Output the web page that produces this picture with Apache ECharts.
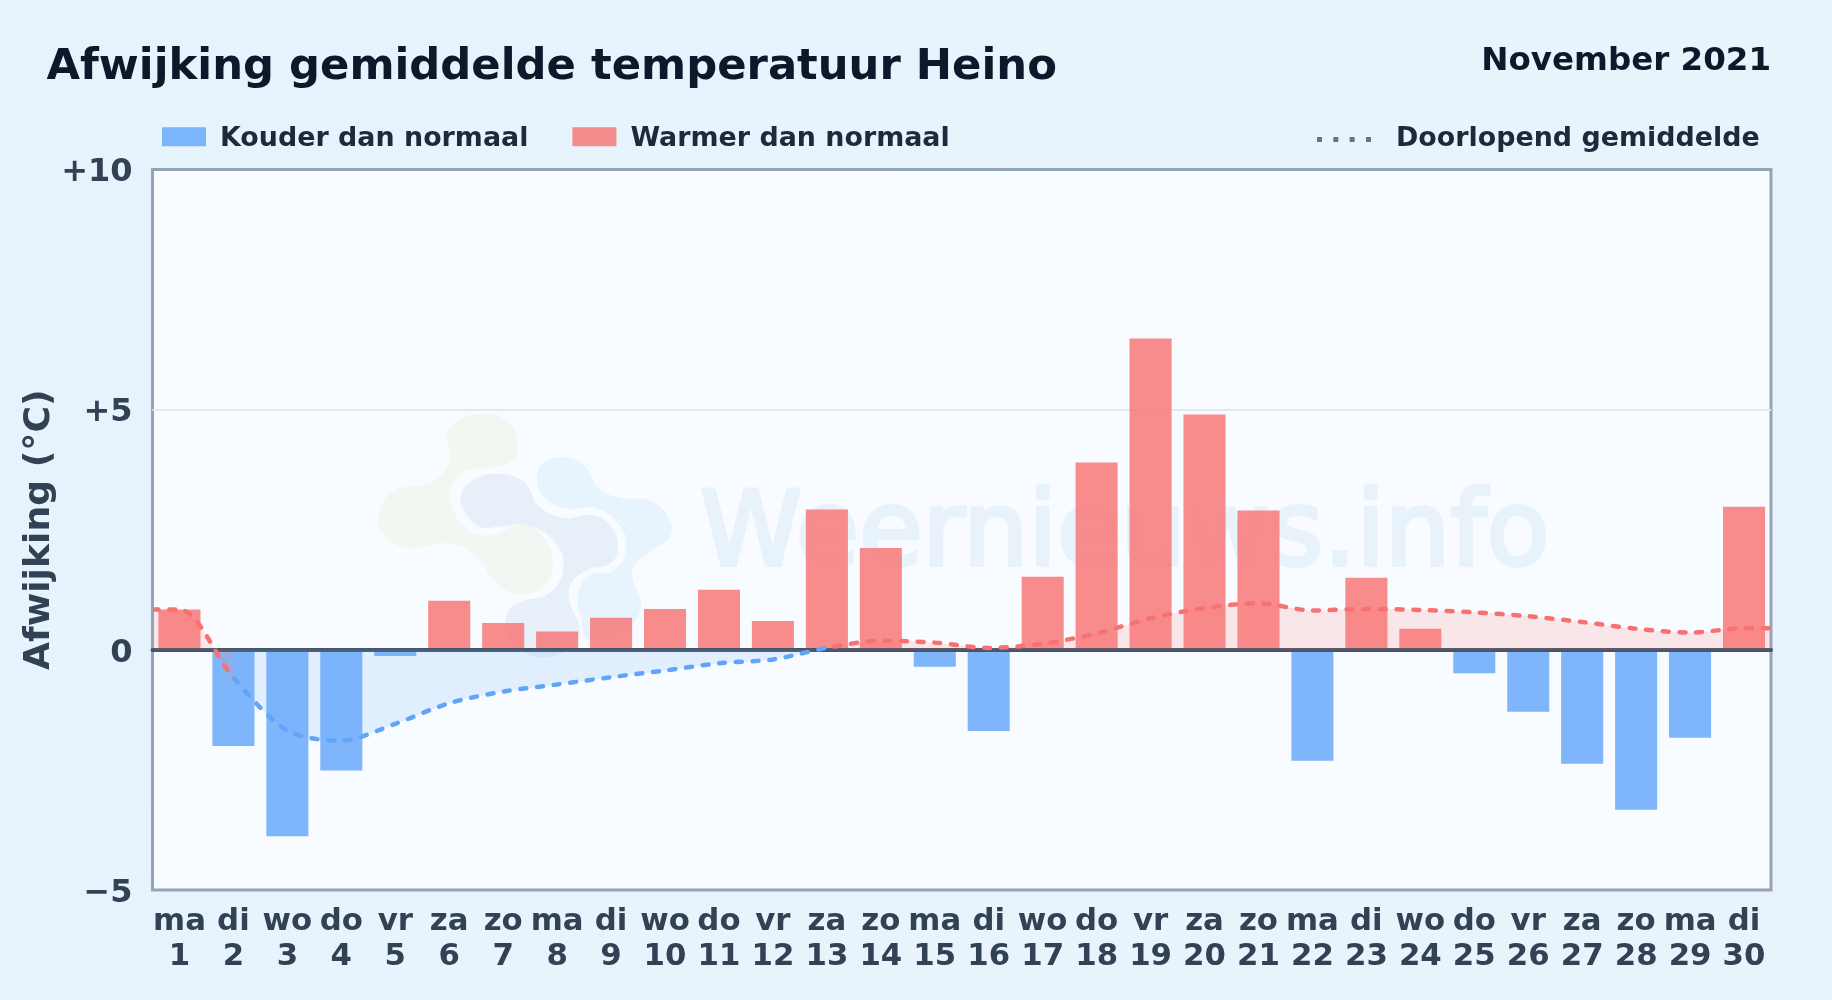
<!DOCTYPE html>
<html><head><meta charset="utf-8">
<style>html,body{margin:0;padding:0;background:#e8f3fc}#c{width:1832px;height:1000px}</style>
<script src="https://cdn.jsdelivr.net/npm/echarts@6/dist/echarts.min.js"></script>
</head><body><div id="c"></div>
<script>
const weekdays = ['ma','di','wo','do','vr','za','zo','ma','di','wo','do','vr','za','zo','ma','di','wo','do','vr','za','zo','ma','di','wo','do','vr','za','zo','ma','di'];
const days = [1,2,3,4,5,6,7,8,9,10,11,12,13,14,15,16,17,18,19,20,21,22,23,24,25,26,27,28,29,30];
const afwijking = [0.84,-2.0,-3.88,-2.51,-0.13,1.02,0.56,0.38,0.67,0.85,1.25,0.6,2.92,2.12,-0.35,-1.69,1.52,3.9,6.48,4.9,2.9,-2.31,1.5,0.44,-0.49,-1.29,-2.37,-3.33,-1.83,2.98];
const doorlopend = [0.84,-0.58,-1.68,-1.89,-1.54,-1.11,-0.87,-0.72,-0.57,-0.43,-0.28,-0.2,0.04,0.19,0.15,0.04,0.13,0.34,0.66,0.87,0.97,0.82,0.85,0.83,0.78,0.7,0.58,0.44,0.36,0.45];
const yTicks = {'10':'+10','5':'+5','0':'0','-5':'−5'};
const names = {cold:'Kouder dan normaal', warm:'Warmer dan normaal', avg:'Doorlopend gemiddelde'};
const FONT = '"DejaVu Sans", sans-serif';
const BLUE = '#60a5fa', RED = '#f87171';

const catLabels = weekdays.map((w,i)=> w+'\n'+days[i]);
const linePts = [[0,doorlopend[0]]].concat(doorlopend.map((v,i)=>[i+0.5,v]), [[30,doorlopend[29]]]);
// Each stretch of the running mean takes its colour from the sign at its start.
const colourRuns = [];
doorlopend.forEach((v,i)=>{
  const color = v>=0?RED:BLUE, last = colourRuns[colourRuns.length-1];
  if(last && last.color===color){ last.max = i===29?30:i+1.5; }
  else colourRuns.push({min:i===0?0:i+0.5,max:i===29?30:i+1.5,color});
});

const sx = 1/2.613, sy = 1/3;
const blob = (pts, fill) => ({type:'polygon', x:350, y:380, scaleX:sx, scaleY:sy, z:1, silent:true,
  shape:{points:pts, smooth:0.45}, style:{fill}});
const green=[[345,100],[410,125],[437,180],[425,240],[370,262],[300,275],[265,320],[265,375],[305,445],[370,465],[450,432],[505,470],[530,550],[500,625],[430,640],[375,600],[330,530],[250,490],[150,505],[85,460],[78,390],[120,330],[215,305],[260,240],[258,150]];
const mid=[[390,282],[440,295],[468,325],[490,375],[560,415],[625,405],[675,430],[700,500],[680,550],[620,570],[578,610],[575,670],[600,740],[590,790],[540,825],[470,825],[415,770],[410,700],[450,665],[520,640],[558,560],[530,480],[460,435],[390,440],[340,440],[300,395],[290,345],[330,295]];
const right=[[565,232],[615,260],[650,325],[710,355],[780,360],[830,410],[835,470],[790,510],[740,560],[740,600],[760,670],[740,730],[690,770],[620,780],[605,720],[595,660],[620,590],[690,570],[722,500],[700,430],[640,385],[570,385],[510,355],[488,290],[510,245]];

const legendText = {fontFamily:FONT,fontWeight:'bold',fontSize:26.9,color:'#1e293b'};
const chart = echarts.init(document.getElementById('c'),null,{renderer:'canvas'});
chart.setOption({
  animation:false,
  backgroundColor:{type:'linear',x:0,y:0,x2:1,y2:1,colorStops:[{offset:0,color:'#e7f3fc'},{offset:1,color:'#e9f3fc'}]},
  title:[
    {text:'Afwijking gemiddelde temperatuur Heino',left:41.5,top:41.5,textStyle:{fontFamily:FONT,fontWeight:'bold',fontSize:43.3,color:'#0f172a'}},
    {text:'November 2021',right:56,top:40,textStyle:{fontFamily:FONT,fontWeight:'bold',fontSize:32.5,color:'#0f172a'}}
  ],
  legend:[
    {left:162,top:125.8,padding:0,itemWidth:44,itemHeight:19,itemGap:44,data:[names.cold,names.warm],icon:'rect',
     formatter:n=>'{t|'+n+'}',
     textStyle:Object.assign({},legendText,{rich:{t:Object.assign({},legendText,{padding:[5,0,0,9]})}}),selectedMode:false},
    {left:1317,top:126,padding:0,itemWidth:54,itemHeight:5,itemGap:0,selectedMode:false,
     data:[{name:names.avg,icon:'path://M0 0h5v5h-5z M16.3 0h5v5h-5z M32.6 0h5v5h-5z M49 0h5v5h-5z',itemStyle:{color:'#64748b',opacity:1}}],
     textStyle:Object.assign({},legendText,{padding:[0,0,0,20]})}
  ],
  grid:{left:152.5,right:61,top:169.5,bottom:110,show:true,backgroundColor:'#f8fbff',borderColor:'#94a3b8',borderWidth:3,containLabel:false},
  graphic:[
    blob(green,'#f2f8f1'),blob(mid,'#e7f0f9'),blob(right,'#e7f4fd'),
    {type:'text',x:700,y:487,z:1,silent:true,style:{text:'Weernieuws.info',fontFamily:FONT,fontWeight:'normal',fontSize:103,fill:'#e8f2fa',stroke:'#e8f2fa',lineWidth:4}}
  ],
  xAxis:[
    {type:'category',data:catLabels,position:'bottom',axisLine:{show:false},axisTick:{show:false},splitLine:{show:false},
     axisLabel:{interval:0,margin:15,fontFamily:FONT,fontWeight:'bold',fontSize:30.8,lineHeight:34.5,color:'#334155'},
     axisPointer:{show:false}},
    {type:'value',min:0,max:30,show:true,position:'bottom',z:5,
     axisLine:{show:true,onZero:true,onZeroAxisIndex:0,lineStyle:{color:'#475569',width:4}},
     axisTick:{show:false},axisLabel:{show:false},splitLine:{show:false}}
  ],
  yAxis:{type:'value',min:-5,max:10,interval:5,name:'Afwijking (°C)',nameLocation:'middle',nameGap:95,nameMoveOverlap:false,
    nameTextStyle:{fontFamily:FONT,fontWeight:'bold',fontSize:36.2,color:'#334155'},
    axisLine:{show:false},axisTick:{show:false},
    splitLine:{show:true,showMinLine:false,showMaxLine:false,lineStyle:{color:'#e2e8f0',width:2}},
    axisLabel:{margin:20,fontFamily:FONT,fontWeight:'bold',fontSize:32,color:'#334155',verticalAlign:'top',lineHeight:7,formatter:v=>yTicks[String(v)]}},
  visualMap:{show:false,type:'piecewise',seriesIndex:2,dimension:0,pieces:colourRuns},
  series:[
    {name:names.cold,type:'bar',stack:'a',barWidth:'78%',z:3,itemStyle:{color:BLUE,opacity:0.8},
     data:afwijking.map(v=>v<0?v:null)},
    {name:names.warm,type:'bar',stack:'a',barWidth:'78%',z:3,itemStyle:{color:RED,opacity:0.8},
     data:afwijking.map(v=>v>0?v:null)},
    {name:names.avg,type:'line',xAxisIndex:1,smooth:0.3,symbol:'none',z:6,
     lineStyle:{width:4.5,type:[6,10.7],cap:'round'},
     areaStyle:{opacity:0.15,origin:0},
     data:linePts}
  ]
});
</script></body></html>
